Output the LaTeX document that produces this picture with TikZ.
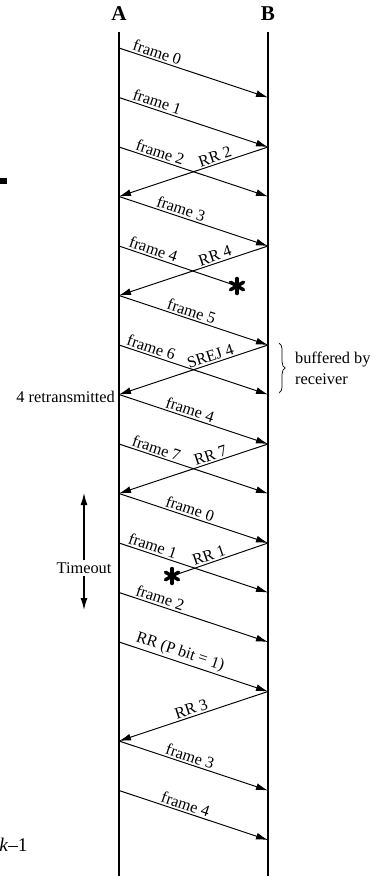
\documentclass[tikz,border=0pt]{standalone}
\usepackage{fontspec}
\setmainfont{Liberation Serif}
\usetikzlibrary{arrows.meta,decorations.pathreplacing}

\tikzset{
	msg/.style={line width=0.55pt,-{Latex[length=2.4mm,width=1.4mm]}},
	lost/.style={line width=0.55pt},
	lbl/.style={sloped,above,inner sep=1pt,font=\fontsize{9.2}{10}\selectfont},
	life/.style={line width=0.8pt},
	hdr/.style={font=\fontsize{12}{14}\selectfont\bfseries},
	note/.style={font=\fontsize{9.3}{11.9}\selectfont},
	burst/.style={line width=2pt,line cap=round},
}

\begin{document}
\begin{tikzpicture}[x=0.02cm,y=-0.02cm]
	\useasboundingbox (0,0) rectangle (372,876);

	% stations
	\node[hdr] (A) at (119,14) {A};
	\node[hdr] (B) at (268,14) {B};
	\coordinate (Atop) at (119,32);
	\coordinate (Abot) at (119,876);
	\coordinate (Btop) at (268,32);
	\coordinate (Bbot) at (268,876);
	\draw[life] (Atop) -- (Abot);
	\draw[life] (Btop) -- (Bbot);

	% time slots on both lines
	\foreach \i in {0,...,16} {
		\coordinate (a\i) at (119,48+49.5*\i);
		\coordinate (b\i) at (268,48+49.5*\i);
	}
	\coordinate (s1) at (237,286);
	\coordinate (s2) at (172,576);

	\draw[msg] (a0) -- node[lbl,pos=0.24] (f0) {frame 0} (b1);
	\draw[msg] (a1) -- node[lbl,pos=0.24] (f1) {frame 1} (b2);
	\draw[msg] (a2) -- node[lbl,pos=0.26] (f2) {frame 2} (b3);
	\draw[msg] (b2) -- node[lbl,pos=0.34] (rr2) {RR 2} (a3);
	\draw[msg] (a3) -- node[lbl,pos=0.40] (f3) {frame 3} (b4);
	\draw[lost] (a4) -- node[lbl,pos=0.27] (f4) {frame 4} (s1);
	\draw[msg] (b4) -- node[lbl,pos=0.34] (rr4) {RR 4} (a5);
	\draw[msg] (a5) -- node[lbl,pos=0.47] (f5) {frame 5} (b6);
	\draw[msg] (a6) -- node[lbl,pos=0.20] (f6) {frame 6} (b7);
	\draw[msg] (b6) -- node[lbl,pos=0.37] (srej) {SREJ 4} (a7);
	\draw[msg] (a7) -- node[lbl,pos=0.46] (f4r) {frame 4} (b8);
	\draw[msg] (a8) -- node[lbl,pos=0.235] (f7) {frame 7} (b9);
	\draw[msg] (b8) -- node[lbl,pos=0.37] (rr7) {RR 7} (a9);
	\draw[msg] (a9) -- node[lbl,pos=0.46] (f0b) {frame 0} (b10);
	\draw[msg] (a10) -- node[lbl,pos=0.21] (f1b) {frame 1} (b11);
	\draw[lost] (b10) -- node[lbl,pos=0.59] (rr1) {RR 1} (s2);
	\draw[msg] (a11) -- node[lbl,pos=0.26] (f2b) {frame 2} (b12);
	\draw[msg] (a12) -- node[lbl,pos=0.39] (poll) {RR (P bit = 1)} (b13);
	\draw[msg] (b13) -- node[lbl,pos=0.50] (rr3) {RR 3} (a14);
	\draw[msg] (a14) -- node[lbl,pos=0.46] (f3b) {frame 3} (b15);
	\draw[msg] (a15) -- node[lbl,pos=0.43] (f4c) {frame 4} (b16);

	% lost frames
	\foreach \a in {30,90,150} {
		\draw[burst] ([shift={(\a:7.5)}]s1) -- ([shift={(\a+180:7.5)}]s1);
		\draw[burst] ([shift={(\a:7.5)}]s2) -- ([shift={(\a+180:7.5)}]s2);
	}

	% side notes
	\coordinate (br1) at (279,343);
	\coordinate (br2) at (279,393);
	\draw[decorate,decoration={brace,amplitude=3.5pt}] (br1) -- (br2);
	\node[note,anchor=west,align=left,inner sep=1pt] (buf) at (293,368) {buffered by\\receiver};
	\node[note,anchor=east,inner sep=1pt] (retx) at (117,397) {4 retransmitted};

	\node[note,inner sep=1pt] (tmo) at (84,568) {Timeout};
	\coordinate (ttop) at (84,493);
	\coordinate (tbot) at (84,610);
	\draw[msg,line width=0.7pt] (tmo) -- (ttop);
	\draw[msg,line width=0.7pt] (tmo) -- (tbot);

	\fill (0,178) rectangle (7,184);
	\node[anchor=east,inner sep=0pt,font=\fontsize{11}{12}\selectfont] (kone) at (28,845) {\textit{k}--1};
\end{tikzpicture}
\end{document}
